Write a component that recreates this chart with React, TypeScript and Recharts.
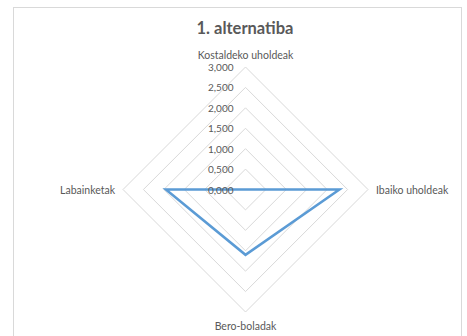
import React from 'react';
import {
  RadarChart,
  Radar,
  PolarGrid,
  PolarAngleAxis,
  PolarRadiusAxis,
} from 'recharts';

const categories = ['Kostaldeko uholdeak', 'Ibaiko uholdeak', 'Bero-boladak', 'Labainketak'];
const values = [0, 2.3, 1.6, 1.95];
const radiusTicks = [0, 0.5, 1, 1.5, 2, 2.5, 3];

const data = categories.map((name, i) => ({ name, value: values[i] }));

const textColor = '#595959';
const fontFamily = 'Lato, "Open Sans", sans-serif';

// 0.5 -> "0,500"
const formatTick = (v: number) => v.toFixed(3).replace('.', ',');

const CX = 245.5;
const CY = 189.5;

const AngleTick = (props: any) => {
  const { x, y, textAnchor, payload } = props;
  let dy = 0;
  if (y < CY - 1) {
    dy = -4;
  } else if (y > CY + 1) {
    dy = 6;
  }
  return (
    <text
      x={x}
      y={y + dy}
      textAnchor={textAnchor}
      dominantBaseline="central"
      fontSize={10.5}
      fontFamily={fontFamily}
      fill={textColor}
    >
      {payload.value}
    </text>
  );
};

const RadiusTick = (props: any) => {
  const { x, y, payload } = props;
  return (
    <text
      x={x - 12}
      y={y}
      textAnchor="end"
      dominantBaseline="central"
      fontSize={10}
      fontFamily={fontFamily}
      fill={textColor}
    >
      {formatTick(payload.value)}
    </text>
  );
};

export default function App() {
  return (
    <div style={{ position: 'absolute', left: 0, top: 0, width: 467, height: 336, background: '#fff', overflow: 'hidden' }}>
      <div
        style={{
          position: 'absolute',
          left: 13,
          top: 7,
          width: 449,
          height: 340,
          border: '1px solid #d9d9d9',
          boxSizing: 'border-box',
        }}
      />
      <div
        style={{
          position: 'absolute',
          left: 0,
          top: 18,
          width: 490,
          textAlign: 'center',
          fontFamily,
          fontWeight: 'bold',
          fontSize: 16.5,
          lineHeight: '20px',
          color: textColor,
        }}
      >
        1. alternatiba
      </div>
      <div style={{ position: 'absolute', left: 0, top: 0 }}>
        <RadarChart
          width={467}
          height={336}
          data={data}
          cx={CX}
          cy={CY}
          outerRadius={122.5}
          margin={{ top: 0, right: 0, bottom: 0, left: 0 }}
        >
          <PolarGrid gridType="polygon" radialLines={false} stroke="#d9d9d9" strokeWidth={1} />
          <PolarAngleAxis
            dataKey="name"
            tick={<AngleTick />}
            tickLine={false}
            axisLine={false}
          />
          <PolarRadiusAxis
            angle={90}
            domain={[0, 3]}
            ticks={radiusTicks as any}
            tickCount={7}
            axisLine={false}
            tickLine={false}
            tick={<RadiusTick />}
          />
          <Radar
            dataKey="value"
            stroke="#5b9bd5"
            strokeWidth={2.5}
            fill="none"
            fillOpacity={0}
            dot={false}
            isAnimationActive={false}
          />
        </RadarChart>
      </div>
    </div>
  );
}
